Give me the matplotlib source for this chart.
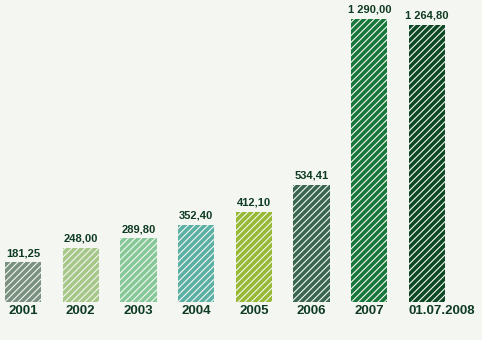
import matplotlib.pyplot as plt
import numpy as np

plt.rcParams['hatch.color'] = 'white'
plt.rcParams['hatch.linewidth'] = 0.8

years = ["2001", "2002", "2003", "2004", "2005", "2006", "2007", "01.07.2008"]
values = [181.25, 248.00, 289.80, 352.40, 412.10, 534.41, 1290.00, 1264.80]
colors = ["#7a9080", "#a5c788", "#86c898", "#5bb0a6", "#98b934", "#3a6650", "#17763a", "#0d4824"]

text_color = "#0e3b22"
bg = "#f4f6f1"


def fmt(v):
    s = "{:,.2f}".format(v)
    return s.replace(",", " ").replace(".", ",")


def main():
    fig = plt.figure(figsize=(4.82, 3.40), dpi=100, facecolor=bg)
    ax = fig.add_axes([0, 0, 1, 1])
    ax.set_facecolor(bg)

    width = 0.63
    x = np.arange(len(values))
    ax.bar(x, values, width=width, color=colors, hatch="/////", edgecolor=bg, linewidth=0)

    for xi, v in zip(x, values):
        ax.annotate(fmt(v), (xi, v), xytext=(0, 3), textcoords="offset points",
                    ha="center", va="bottom", fontsize=8, fontweight="bold",
                    color=text_color, family="Liberation Sans")
    for xi, lab in zip(x, years):
        # the long date label starts at the bar's left edge
        if len(lab) > 4:
            pos, ha = xi - width / 2, "left"
        else:
            pos, ha = xi, "center"
        ax.annotate(lab, (pos, 0), xytext=(0, -2), textcoords="offset points",
                    ha=ha, va="top", fontsize=9.5, fontweight="bold",
                    color=text_color, family="Liberation Sans")

    ax.set_xlim(-0.3985, 7.953)
    ax.set_ylim(-173.2, 1376.6)
    ax.axis("off")

    plt.savefig("out.png", dpi=100, facecolor=bg)
    plt.close()


main()
